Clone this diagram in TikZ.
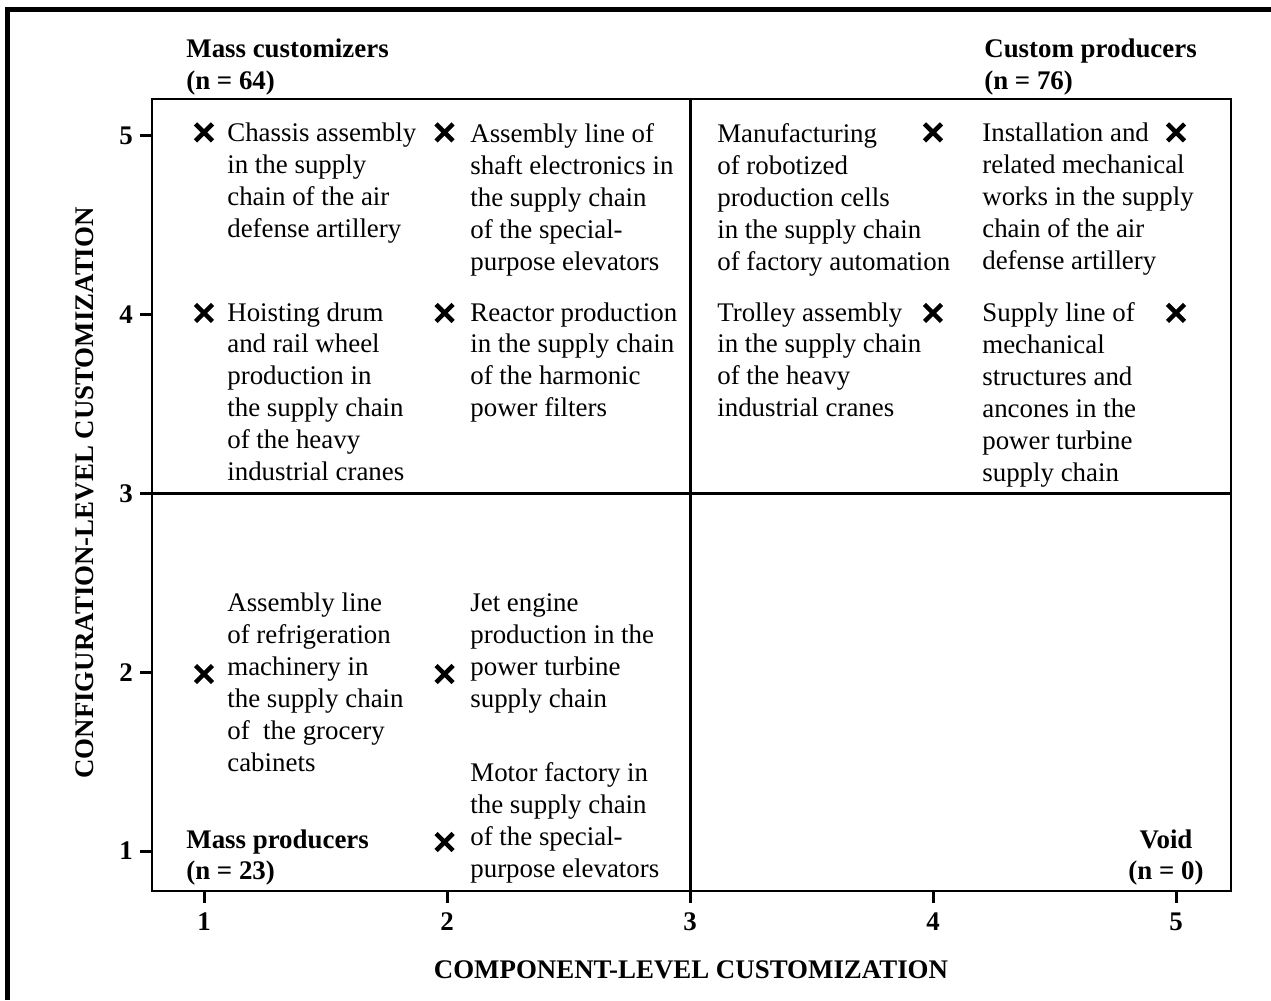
\documentclass[tikz,border=0pt]{standalone}
\usepackage{fontspec}
\setmainfont{Liberation Serif}
\usetikzlibrary{shapes.misc}
\begin{document}
\begin{tikzpicture}[x=4.86cm,y=3.575cm,
  entry/.style={anchor=north west, align=left, inner sep=0pt, font=\fontsize{15.3}{18.2}\selectfont},
  quad/.style={anchor=north west, align=left, inner sep=0pt, font=\fontsize{15.3}{18.2}\selectfont\bfseries},
  marker/.style={cross out, draw, line width=0.09cm, minimum size=0.25cm, inner sep=0pt},
  tick/.style={line width=0.06cm},
  ticklabel/.style={font=\fontsize{15.3}{18.2}\selectfont\bfseries, inner sep=0pt}]
\useasboundingbox (0.1605,0.1664) rectangle (5.3909,5.7608);
% outer frame (top and left only)
\draw[line width=0.1cm] (0.1914,0.1664) -- (0.1914,5.7077) -- (5.3909,5.7077);
% plot box and quadrant lines
\draw[line width=0.045cm] (0.786,0.7762) rectangle (5.2263,5.207);
\draw[line width=0.06cm] (3,0.7762) -- (3,5.207);
\draw[line width=0.06cm] (0.786,3) -- (5.2263,3);
% ticks and tick labels
\foreach \v in {1,...,5} {
  \draw[tick] (\v,0.7762) -- ++(0,-0.067);
  \node[ticklabel] (xl\v) at (\v,0.6028) {\v};
  \draw[tick] (0.786,\v) -- ++(-0.049,0);
  \node[ticklabel] (yl\v) at (0.679,\v) {\v};
}
% axis titles
\node[ticklabel] (xtitle) at (3.004,0.334) {COMPONENT-LEVEL CUSTOMIZATION};
\node[ticklabel, rotate=90] (ytitle) at (0.5103,3.003) {CONFIGURATION-LEVEL CUSTOMIZATION};
% quadrant labels
\node[quad] (masscust) at (0.926,5.5427) {Mass customizers\\(n = 64)};
\node[quad] (custprod) at (4.2099,5.5427) {Custom producers\\(n = 76)};
\node[quad] (massprod) at (0.926,1.1231) {Mass producers\\(n = 23)};
\node[quad, anchor=north, align=center] (void) at (4.9588,1.1231) {Void\\(n = 0)};
% cases
\foreach \mx/\my [count=\i] in {1/5.02, 1.99/5.02, 4/5.02, 5/5.02, 1/4.01, 1.99/4.01, 4/4.01, 5/4.01, 1/1.99, 1.99/1.99, 1.99/1.05}
  \node[marker] (m\i) at (\mx,\my) {};
\node[entry] (chassis) at (1.0947,5.0727) {Chassis assembly\\in the supply\\chain of the air\\defense artillery};
\node[entry] (shaft) at (2.0947,5.0727) {Assembly line of\\shaft electronics in\\the supply chain\\of the special-\\purpose elevators};
\node[entry] (robot) at (3.111,5.0727) {Manufacturing\\of robotized\\production cells\\in the supply chain\\of factory automation};
\node[entry] (install) at (4.2016,5.0727) {Installation and\\related mechanical\\works in the supply\\chain of the air\\defense artillery};
\node[entry] (hoist) at (1.0947,4.0713) {Hoisting drum\\and rail wheel\\production in\\the supply chain\\of the heavy\\industrial cranes};
\node[entry] (reactor) at (2.0947,4.0713) {Reactor production\\in the supply chain\\of the harmonic\\power filters};
\node[entry] (trolley) at (3.111,4.0713) {Trolley assembly\\in the supply chain\\of the heavy\\industrial cranes};
\node[entry] (ancone) at (4.2016,4.0713) {Supply line of\\mechanical\\structures and\\ancones in the\\power turbine\\supply chain};
\node[entry] (fridge) at (1.0947,2.4434) {Assembly line\\of refrigeration\\machinery in\\the supply chain\\of\ \ the grocery\\cabinets};
\node[entry] (jet) at (2.0947,2.4434) {Jet engine\\production in the\\power turbine\\supply chain};
\node[entry] (motor) at (2.0947,1.4979) {Motor factory in\\the supply chain\\of the special-\\purpose elevators};
\end{tikzpicture}
\end{document}
